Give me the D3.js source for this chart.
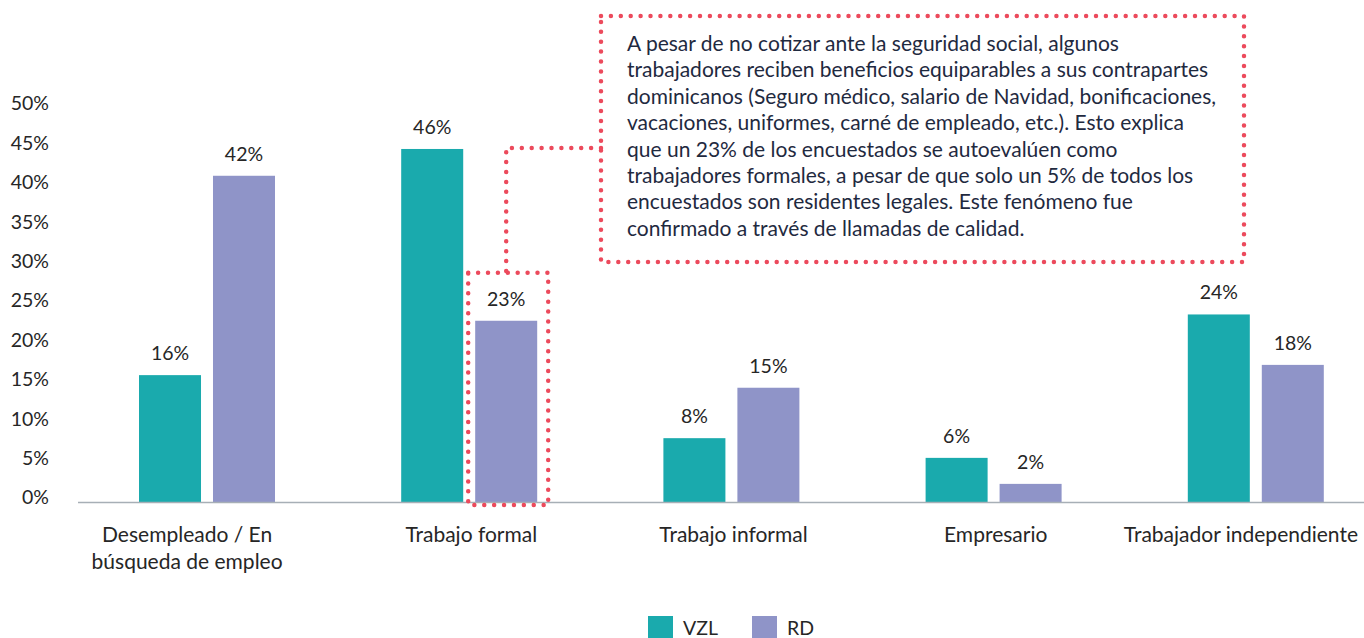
<!DOCTYPE html>
<meta charset="utf-8">
<style>
    body { margin: 0; background: #fff; }
    svg { display: block; font-family: Lato, "Open Sans", sans-serif; }
</style>
<svg width="1364" height="638"></svg>
<script src="https://d3js.org/d3.v7.min.js"></script>
<script>

    // categorias del eje x (las de dos lineas van separadas con \n)
    var categories = ["Desempleado / En\nbúsqueda de empleo", "Trabajo formal", "Trabajo informal", "Empresario", "Trabajador independiente"];
    var seriesNames = ["VZL", "RD"];

    // alturas de las barras
    var vzlValues = [16.1, 44.8, 8.1, 5.6, 23.8];
    var rdValues = [41.4, 23.0, 14.5, 2.3, 17.4];

    // etiquetas tal como aparecen sobre las barras
    var vzlLabels = ["16%", "46%", "8%", "6%", "24%"];
    var rdLabels = ["42%", "23%", "15%", "2%", "18%"];

    var yTicks = [0, 5, 10, 15, 20, 25, 30, 35, 40, 45, 50];

    var noteLines = [
        "A pesar de no cotizar ante la seguridad social, algunos",
        "trabajadores reciben beneficios equiparables a sus contrapartes",
        "dominicanos (Seguro médico, salario de Navidad, bonificaciones,",
        "vacaciones, uniformes, carné de empleado, etc.). Esto explica",
        "que un 23% de los encuestados se autoevalúen como",
        "trabajadores formales, a pesar de que solo un 5% de todos los",
        "encuestados son residentes legales. Este fenómeno fue",
        "confirmado a través de llamadas de calidad."
    ];

    var colors = { VZL: "#1aaaad", RD: "#8f94c8" };
    var red = "#ec4a5c";
    var fs = 19.5;   // numeros y leyenda
    var fsText = 21; // categorias y nota

    var width = 1364;
    var svg = d3.select("svg");

    var x0 = d3.scaleBand()
        .domain(categories)
        .range([78, 1389]);

    var x1 = d3.scaleBand()
        .domain(seriesNames)
        .range([61, 197])
        .paddingInner(0.162);

    var y = d3.scaleLinear()
        .domain([0, 50])
        .range([502, 108]);

    var rows = categories.map(function (c, i) {
        return {
            cat: c,
            bars: [
                { key: "VZL", value: vzlValues[i], label: vzlLabels[i] },
                { key: "RD", value: rdValues[i], label: rdLabels[i] }
            ]
        };
    });

    // eje y, solo etiquetas
    var yAxis = d3.axisLeft(y).tickValues(yTicks).tickSize(0).tickPadding(0)
        .tickFormat(function (d) { return d + "%"; });
    var gy = svg.append("g").attr("transform", "translate(49,0)").call(yAxis);
    gy.select(".domain").remove();
    gy.selectAll("text")
        .attr("font-family", "Lato")
        .attr("font-size", fs)
        .attr("fill", "#262626")
        .attr("dy", "0.1em");

    // barras
    var groups = svg.selectAll("g.grp")
        .data(rows)
        .enter().append("g")
        .attr("class", "grp")
        .attr("transform", function (d) { return "translate(" + x0(d.cat) + ",0)"; });

    groups.selectAll("rect")
        .data(function (d) { return d.bars; })
        .enter().append("rect")
        .attr("x", function (d) { return x1(d.key); })
        .attr("width", x1.bandwidth())
        .attr("y", function (d) { return y(d.value); })
        .attr("height", function (d) { return y(0) - y(d.value); })
        .attr("fill", function (d) { return colors[d.key]; });

    groups.selectAll("text.val")
        .data(function (d) { return d.bars; })
        .enter().append("text")
        .attr("class", "val")
        .attr("x", function (d) { return x1(d.key) + x1.bandwidth() / 2; })
        .attr("y", function (d) { return y(d.value) - 15; })
        .attr("text-anchor", "middle")
        .attr("font-size", fs)
        .attr("fill", "#262626")
        .text(function (d) { return d.label; });

    // linea base
    svg.append("line")
        .attr("x1", 78).attr("x2", width)
        .attr("y1", y(0) + 0.5).attr("y2", y(0) + 0.5)
        .attr("stroke", "#a7afb6")
        .attr("stroke-width", 1.5);

    // etiquetas de categoria
    var catText = groups.append("text")
        .attr("y", 542)
        .attr("text-anchor", "middle")
        .attr("font-size", fsText)
        .attr("fill", "#262626");

    catText.selectAll("tspan")
        .data(function (d) { return d.cat.split("\n"); })
        .enter().append("tspan")
        .attr("x", x0.bandwidth() / 2)
        .attr("dy", function (d, i) { return i ? 27 : 0; })
        .text(function (d) { return d; });

    // como en el original: la etiqueta de dos lineas queda algo a la izquierda
    // y la ultima se corre para no salirse del borde
    catText.each(function (d, i) {
        var w = this.getComputedTextLength();
        var right = x0(d.cat) + x0.bandwidth() / 2 + w / 2;
        var dx = 0;
        if (i === 0) dx = -22;
        if (right > width - 6) dx = width - 6 - right;
        if (dx) d3.select(this).attr("transform", "translate(" + dx + ",0)");
    });

    // anotacion con borde punteado
    var dotted = function (sel) {
        return sel.attr("fill", "none")
            .attr("stroke", red)
            .attr("stroke-width", 4.5)
            .attr("stroke-linecap", "round")
            .attr("stroke-dasharray", "0 9.9");
    };

    var box = { x: 601, y: 16, w: 643, h: 246 };
    svg.append("rect")
        .attr("x", box.x).attr("y", box.y)
        .attr("width", box.w).attr("height", box.h)
        .call(dotted);

    // recuadro alrededor de la barra RD de Trabajo formal
    var hx = x0("Trabajo formal") + x1("RD");
    var hb = { x: hx - 7, y: y(rdValues[1]) - 48, w: x1.bandwidth() + 18, h: y(0) - y(rdValues[1]) + 51 };
    svg.append("rect")
        .attr("x", hb.x).attr("y", hb.y)
        .attr("width", hb.w).attr("height", hb.h)
        .call(dotted);

    var cx = hx + x1.bandwidth() / 2;
    svg.append("path")
        .attr("d", "M" + box.x + "," + 148 + "H" + cx + "V" + hb.y)
        .call(dotted);

    svg.append("g")
        .selectAll("text")
        .data(noteLines)
        .enter().append("text")
        .attr("x", 627)
        .attr("y", function (d, i) { return 51 + i * 26.4; })
        .attr("font-size", fsText)
        .attr("fill", "#1f2a3f")
        .text(function (d) { return d; });

    // leyenda
    var legend = svg.append("g").selectAll("g")
        .data(seriesNames)
        .enter().append("g")
        .attr("transform", function (d, i) { return "translate(" + (648 + i * 104) + ",616)"; });

    legend.append("rect")
        .attr("width", 25).attr("height", 24)
        .attr("fill", function (d) { return colors[d]; });

    legend.append("text")
        .attr("x", 35).attr("y", 19)
        .attr("font-size", fs)
        .attr("fill", "#262626")
        .text(function (d) { return d; });

</script>
